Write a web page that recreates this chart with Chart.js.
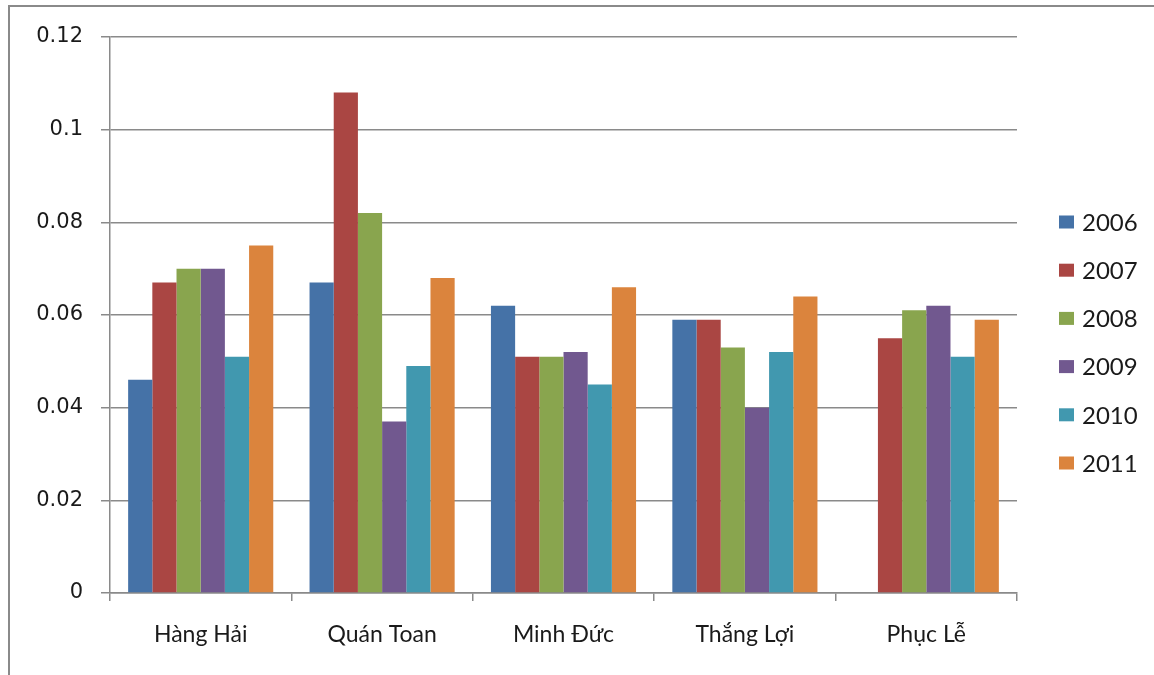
<!DOCTYPE html>
<html>
<head>
<meta charset="utf-8">
<script src="https://cdn.jsdelivr.net/npm/chart.js@4.4.1/dist/chart.umd.min.js"></script>
<style>
  html, body { margin: 0; padding: 0; background: #fff; }
  #wrap { width: 1154px; height: 675px; position: relative; }
</style>
</head>
<body>
<div id="wrap"><canvas id="c" width="1154" height="675"></canvas></div>
<script>
// Communes on the category axis
const communes = ['Hàng Hải', 'Quán Toan', 'Minh Đức', 'Thắng Lợi', 'Phục Lễ'];
// One series per year
const years = ['2006', '2007', '2008', '2009', '2010', '2011'];
const v2006 = [0.046, 0.067, 0.062, 0.059, null];
const v2007 = [0.067, 0.108, 0.051, 0.059, 0.055];
const v2008 = [0.070, 0.082, 0.051, 0.053, 0.061];
const v2009 = [0.070, 0.037, 0.052, 0.040, 0.062];
const v2010 = [0.051, 0.049, 0.045, 0.052, 0.051];
const v2011 = [0.075, 0.068, 0.066, 0.064, 0.059];
// Y axis range and tick step
const yMin = 0, yMax = 0.12, yStep = 0.02;

const seriesValues = [v2006, v2007, v2008, v2009, v2010, v2011];
const seriesColors = ['#4572A7', '#AA4643', '#89A54E', '#71588F', '#4198AF', '#DB843D'];

const GRID = '#8a8a8a';

// Outer frame of the figure
const framePlugin = {
  id: 'frame',
  beforeDraw(chart) {
    const ctx = chart.ctx;
    ctx.save();
    ctx.strokeStyle = '#8a8a8a';
    ctx.lineWidth = 2;
    ctx.beginPath();
    ctx.moveTo(9, 675);
    ctx.lineTo(9, 6);
    ctx.lineTo(1154, 6);
    ctx.stroke();
    ctx.restore();
  }
};

// Vertical legend to the right of the plot
const sideLegend = {
  id: 'sideLegend',
  afterDraw(chart) {
    const ctx = chart.ctx;
    ctx.save();
    ctx.font = '24px Lato';
    ctx.textBaseline = 'middle';
    ctx.textAlign = 'left';
    chart.data.datasets.forEach((ds, i) => {
      const cy = 222 + i * 48.2;
      ctx.fillStyle = ds.backgroundColor;
      ctx.fillRect(1059, cy - 6.5, 15, 13);
      ctx.fillStyle = '#1a1a1a';
      ctx.fillText(ds.label, 1082, cy + 1);
    });
    ctx.restore();
  }
};

new Chart(document.getElementById('c'), {
  type: 'bar',
  data: {
    labels: communes,
    datasets: years.map((y, i) => ({
      label: y,
      data: seriesValues[i],
      backgroundColor: seriesColors[i],
      borderWidth: 0,
      categoryPercentage: 0.8,
      barPercentage: 1.0
    }))
  },
  options: {
    responsive: false,
    animation: false,
    devicePixelRatio: 1,
    layout: { padding: { top: 37, right: 137, left: 0, bottom: 0 } },
    plugins: {
      legend: { display: false },
      tooltip: { enabled: false }
    },
    scales: {
      x: {
        afterFit(scale) { scale.height = 82; },
        grid: {
          offset: true,
          drawOnChartArea: false,
          drawTicks: true,
          tickLength: 8,
          color: GRID,
          lineWidth: 1.5
        },
        border: { color: GRID, width: 1.5 },
        ticks: {
          color: '#1a1a1a',
          font: { family: 'Lato', size: 23 },
          padding: 20,
          maxRotation: 0
        }
      },
      y: {
        min: yMin,
        max: yMax,
        afterFit(scale) { scale.width = 110; },
        grid: {
          color: GRID,
          lineWidth: 1.5,
          tickLength: 9
        },
        border: { color: GRID, width: 1.5 },
        ticks: {
          stepSize: yStep,
          color: '#1a1a1a',
          font: { family: 'DejaVu Sans', size: 21 },
          padding: 18,
          callback: (v) => String(+v.toFixed(2))
        }
      }
    }
  },
  plugins: [framePlugin, sideLegend]
});
</script>
</body>
</html>
